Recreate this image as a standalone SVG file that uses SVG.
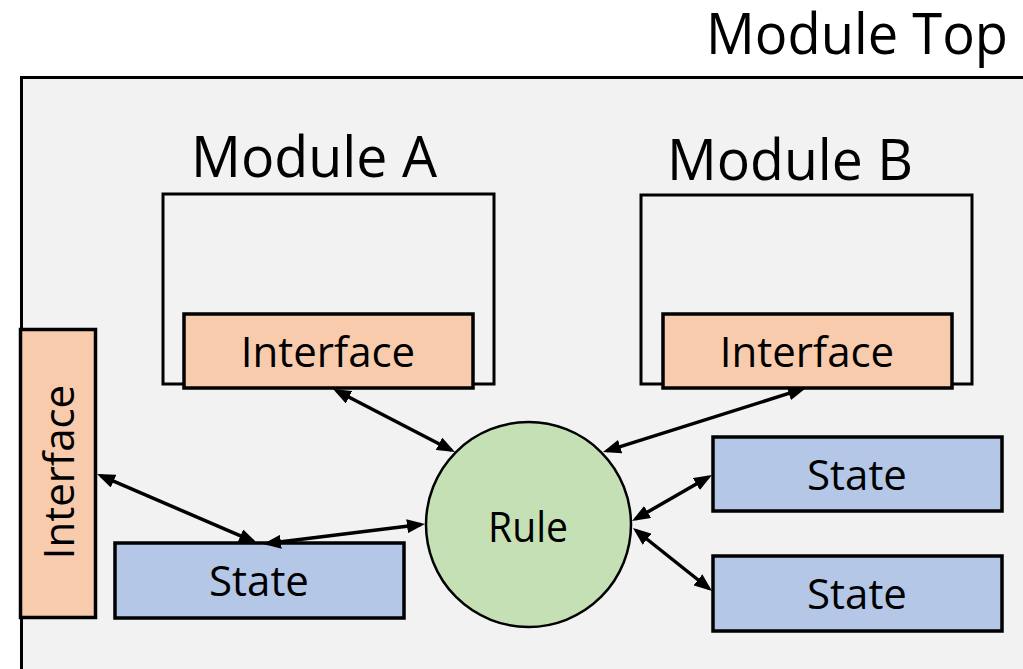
<svg xmlns="http://www.w3.org/2000/svg" width="1023" height="669" viewBox="0 0 1023 669">
<style>
text{font-family:"Open Sans","Noto Sans",sans-serif;fill:#000}
.t56{font-size:56px}
.t42{font-size:42px;text-anchor:middle}
.mod{fill:#f2f2f2;stroke:#000;stroke-width:3}
.ifc{fill:#f8cbad;stroke:#000;stroke-width:3.5}
.st{fill:#b4c7e7;stroke:#000;stroke-width:3.5}
.rule{fill:#c5e0b4;stroke:#000;stroke-width:2.5}
.conn line{stroke:#000;stroke-width:3.5;marker-start:url(#ah);marker-end:url(#ah)}
</style>
<defs>
<marker id="ah" markerUnits="userSpaceOnUse" markerWidth="18" markerHeight="14" viewBox="0 0 18 14" refX="14" refY="7" orient="auto-start-reverse">
<path d="M0,0 L18,7 L0,14 z" fill="#000"/>
</marker>
</defs>
<rect width="1023" height="669" fill="#fff"/>
<g id="module-top">
<rect x="21.5" y="77.5" width="1010" height="600" fill="#f2f2f2" stroke="#000" stroke-width="3"/>
<text class="t56" x="706" y="54" textLength="302" lengthAdjust="spacingAndGlyphs">Module Top</text>
</g>
<g id="module-a">
<rect class="mod" x="163" y="194" width="331" height="190"/>
<text class="t56" x="191" y="177" textLength="246" lengthAdjust="spacingAndGlyphs">Module A</text>
</g>
<g id="module-b">
<rect class="mod" x="641" y="195" width="331" height="189"/>
<text class="t56" x="667" y="180" textLength="246" lengthAdjust="spacingAndGlyphs">Module B</text>
</g>
<g id="interface-a">
<rect class="ifc" x="184" y="314" width="289" height="74"/>
<text class="t42" x="328" y="367">Interface</text>
</g>
<g id="interface-b">
<rect class="ifc" x="663" y="314" width="289" height="74"/>
<text class="t42" x="807" y="367">Interface</text>
</g>
<g id="interface-left">
<rect class="ifc" x="20.5" y="329.5" width="75" height="288"/>
<text class="t42" transform="translate(74,472) rotate(-90)" x="0" y="0">Interface</text>
</g>
<g id="state-left">
<rect class="st" x="115" y="543" width="289" height="75"/>
<text class="t42" x="259" y="596">State</text>
</g>
<g id="state-right-1">
<rect class="st" x="713" y="437" width="289" height="74"/>
<text class="t42" x="857" y="490">State</text>
</g>
<g id="state-right-2">
<rect class="st" x="713" y="556" width="289" height="75"/>
<text class="t42" x="857" y="609">State</text>
</g>
<g id="rule">
<circle class="rule" cx="528.5" cy="524.5" r="102.5"/>
<text class="t42" x="528" y="542" textLength="80" lengthAdjust="spacingAndGlyphs">Rule</text>
</g>
<g id="connectors" class="conn">
<line x1="336.6" y1="390.8" x2="451.4" y2="450.2"/>
<line x1="802.2" y1="389.2" x2="606.8" y2="450.8"/>
<line x1="100.7" y1="475.6" x2="253.3" y2="541.4"/>
<line x1="267" y1="543.5" x2="421" y2="524.5"/>
<line x1="635.5" y1="519" x2="708.5" y2="477"/>
<line x1="636.1" y1="530.5" x2="708.9" y2="588.5"/>
</g>
</svg>
